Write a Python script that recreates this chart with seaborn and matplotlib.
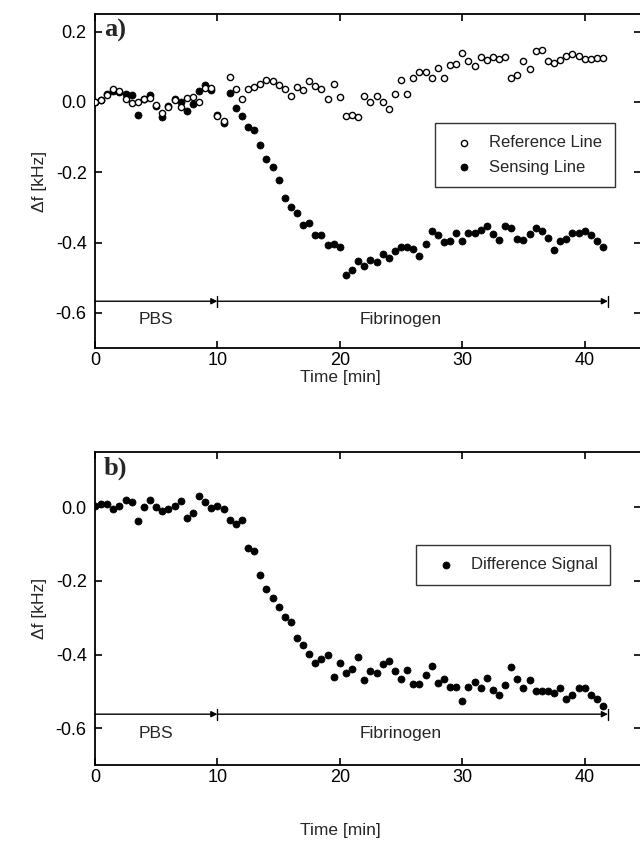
import matplotlib
matplotlib.use('Agg')
import matplotlib.pyplot as plt
import numpy as np
import pandas as pd
import seaborn as sns

# Sampling times (min), one point every half minute
time_min = [0.0, 0.5, 1.0, 1.5, 2.0, 2.5, 3.0, 3.5, 4.0, 4.5, 5.0, 5.5, 6.0, 6.5,
            7.0, 7.5, 8.0, 8.5, 9.0, 9.5, 10.0, 10.5, 11.0, 11.5, 12.0, 12.5, 13.0,
            13.5, 14.0, 14.5, 15.0, 15.5, 16.0, 16.5, 17.0, 17.5, 18.0, 18.5, 19.0,
            19.5, 20.0, 20.5, 21.0, 21.5, 22.0, 22.5, 23.0, 23.5, 24.0, 24.5, 25.0,
            25.5, 26.0, 26.5, 27.0, 27.5, 28.0, 28.5, 29.0, 29.5, 30.0, 30.5, 31.0,
            31.5, 32.0, 32.5, 33.0, 33.5, 34.0, 34.5, 35.0, 35.5, 36.0, 36.5, 37.0,
            37.5, 38.0, 38.5, 39.0, 39.5, 40.0, 40.5, 41.0, 41.5]

# Panel a: reference line (open circles), kHz
reference_line = [0.0, 0.005, 0.02, 0.038, 0.03, 0.007, -0.003, -0.001, 0.008, 0.011,
                  -0.01, -0.032, -0.015, 0.005, -0.015, 0.011, 0.014, 0.001, 0.04, 0.04,
                  -0.041, -0.055, 0.072, 0.036, 0.009, 0.036, 0.041, 0.052, 0.062, 0.059,
                  0.049, 0.036, 0.017, 0.043, 0.033, 0.059, 0.046, 0.038, 0.009, 0.052,
                  0.014, -0.041, -0.038, -0.044, 0.017, -0.001, 0.017, 0.001, -0.02, 0.023,
                  0.062, 0.023, 0.069, 0.084, 0.084, 0.069, 0.096, 0.067, 0.105, 0.108,
                  0.139, 0.115, 0.103, 0.128, 0.12, 0.128, 0.123, 0.127, 0.069, 0.076,
                  0.117, 0.094, 0.146, 0.149, 0.115, 0.11, 0.12, 0.13, 0.137, 0.13,
                  0.123, 0.123, 0.125, 0.125]

# Panel a: sensing line (filled circles), kHz
sensing_line = [0.0, 0.004, 0.023, 0.03, 0.028, 0.023, 0.02, -0.038, 0.009, 0.02,
                -0.012, -0.044, -0.012, 0.007, -0.001, -0.025, -0.006, 0.03, 0.047, 0.033,
                -0.038, -0.059, 0.026, -0.018, -0.04, -0.07, -0.08, -0.122, -0.163, -0.186,
                -0.221, -0.272, -0.299, -0.317, -0.349, -0.344, -0.378, -0.378, -0.407, -0.404,
                -0.412, -0.491, -0.479, -0.453, -0.467, -0.45, -0.455, -0.434, -0.445, -0.424,
                -0.414, -0.414, -0.418, -0.438, -0.404, -0.368, -0.38, -0.399, -0.397, -0.373,
                -0.397, -0.373, -0.373, -0.365, -0.352, -0.376, -0.394, -0.354, -0.36, -0.389,
                -0.392, -0.376, -0.36, -0.366, -0.388, -0.421, -0.397, -0.389, -0.373, -0.373,
                -0.368, -0.38, -0.395, -0.412]

# Panel b: difference signal, kHz
difference_signal = [0.003, 0.008, 0.01, -0.006, 0.003, 0.021, 0.014, -0.037, 0.001, 0.021,
                     0.001, -0.011, -0.004, 0.003, 0.016, -0.028, -0.017, 0.03, 0.014, -0.001,
                     0.003, -0.006, -0.035, -0.046, -0.035, -0.11, -0.119, -0.183, -0.222, -0.246,
                     -0.27, -0.299, -0.313, -0.355, -0.373, -0.399, -0.424, -0.412, -0.4, -0.46,
                     -0.424, -0.451, -0.44, -0.408, -0.47, -0.445, -0.451, -0.426, -0.417, -0.444,
                     -0.467, -0.442, -0.48, -0.48, -0.455, -0.43, -0.476, -0.467, -0.488, -0.488,
                     -0.525, -0.488, -0.475, -0.49, -0.464, -0.495, -0.51, -0.484, -0.435, -0.467,
                     -0.49, -0.469, -0.5, -0.5, -0.5, -0.505, -0.49, -0.52, -0.51, -0.49,
                     -0.49, -0.51, -0.52, -0.54]

# Buffer phases shown under the curves
phase_names = ['PBS', 'Fibrinogen']
phase_edges = [0, 10, 41.9]
phase_label_x = [5, 25]

df_a = pd.DataFrame({'time': time_min, 'reference': reference_line, 'sensing': sensing_line})
df_b = pd.DataFrame({'time': time_min, 'difference': difference_signal})

sns.set_style('ticks')
plt.rcParams['font.family'] = ['Liberation Sans', 'DejaVu Sans']
plt.rcParams['axes.linewidth'] = 1.3

fig = plt.figure(figsize=(6.4, 8.48), dpi=100)
ax_a = fig.add_axes([95 / 640, 1 - 348 / 848, 546 / 640, 334 / 848])
ax_b = fig.add_axes([95 / 640, 1 - 765 / 848, 546 / 640, 313 / 848])

sns.scatterplot(data=df_a, x='time', y='reference', ax=ax_a, marker='o', s=20,
                facecolor='white', edgecolor='black', linewidth=1.0, label='Reference Line', zorder=3)
sns.scatterplot(data=df_a, x='time', y='sensing', ax=ax_a, marker='o', s=26,
                color='black', edgecolor='black', linewidth=0.5, label='Sensing Line', zorder=2)
sns.scatterplot(data=df_b, x='time', y='difference', ax=ax_b, marker='o', s=26,
                color='black', edgecolor='black', linewidth=0.5, label='Difference Signal', zorder=2)


def draw_phases(ax, y_line, y_text):
    for i, name in enumerate(phase_names):
        x0, x1 = phase_edges[i], phase_edges[i + 1]
        ax.annotate('', xy=(x1, y_line), xytext=(x0, y_line),
                    arrowprops=dict(arrowstyle='-|>', color='black', lw=1.0,
                                    mutation_scale=9, shrinkA=0, shrinkB=0))
        ax.plot([x1, x1], [y_line - 0.015, y_line + 0.015], color='black', lw=1.0)
        ax.text(phase_label_x[i], y_text, name, ha='center', va='center', fontsize=12.5)


draw_phases(ax_a, -0.567, -0.62)
draw_phases(ax_b, -0.562, -0.615)

ax_a.set_ylim(-0.70, 0.25)
ax_b.set_ylim(-0.70, 0.15)
ax_a.set_yticks([-0.6, -0.4, -0.2, 0.0, 0.2])
ax_b.set_yticks([-0.6, -0.4, -0.2, 0.0])

for ax, tag in [(ax_a, 'a)'), (ax_b, 'b)')]:
    ax.set_xlim(0, 44.6)
    ax.set_xticks([0, 10, 20, 30, 40])
    ax.yaxis.set_major_formatter(matplotlib.ticker.FormatStrFormatter('%.1f'))
    ax.tick_params(direction='in', top=True, right=True, length=5, width=1.2,
                   labelsize=13, colors='black')
    ax.tick_params(axis='y', pad=6)
    ax.tick_params(axis='x', pad=3)
    ax.set_ylabel('Δf [kHz]', fontsize=12.5, labelpad=6)
    for sp in ax.spines.values():
        sp.set_visible(True)
        sp.set_color('black')
    ax.text(0.016, 0.985, tag, transform=ax.transAxes, ha='left', va='top',
            fontsize=19, fontweight='bold', family='Liberation Serif')

ax_a.set_xlabel('Time [min]', fontsize=12.5)
ax_b.set_xlabel('Time [min]', fontsize=12.5)
ax_a.xaxis.set_label_coords(0.449, -0.087, transform=ax_a.transAxes)
ax_b.xaxis.set_label_coords(0.449, -0.208, transform=ax_b.transAxes)
ax_a.xaxis.label.set_va('center')
ax_b.xaxis.label.set_va('center')

leg_a = ax_a.legend(loc='upper right', bbox_to_anchor=(0.952, 0.674), frameon=True,
                    fancybox=False, edgecolor='black', fontsize=12, handletextpad=0.5,
                    borderpad=0.75, labelspacing=0.55, borderaxespad=0)
leg_a.get_frame().set_linewidth(1.0)
leg_b = ax_b.legend(loc='upper right', bbox_to_anchor=(0.943, 0.703), frameon=True,
                    fancybox=False, edgecolor='black', fontsize=12, handletextpad=0.5,
                    borderpad=0.75, borderaxespad=0)
leg_b.get_frame().set_linewidth(1.0)

fig.savefig('out.png', dpi=100)
